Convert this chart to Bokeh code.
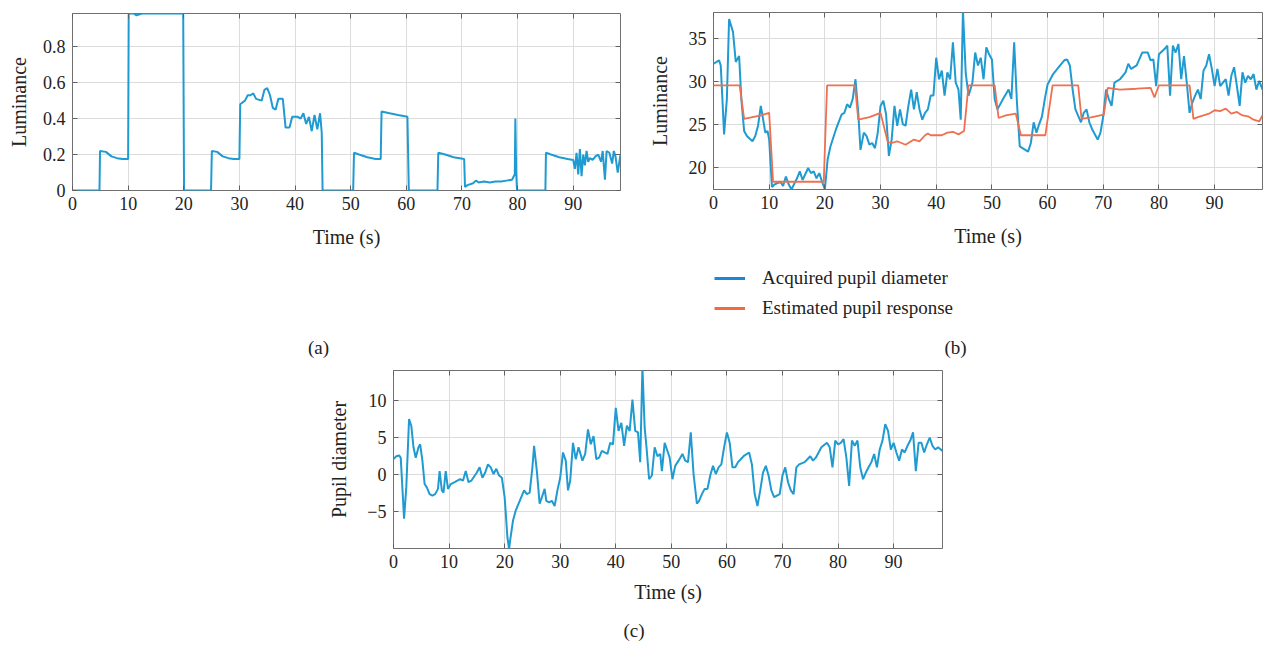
from bokeh.plotting import figure
from bokeh.models import Range1d, FixedTicker, Label, Legend, LegendItem, Title, LinearAxis
from bokeh.layouts import column, row
from bokeh.embed import file_html
from bokeh.resources import INLINE

# ---------------- data ----------------
# (a) luminance stimulus
a_t = [0, 4.85, 4.95, 6.0, 7.0, 8.0, 9.0, 10.0, 10.1, 11.0, 11.5, 12.5, 19.9, 20.05, 24.9, 25.05, 26.0,
       27.0, 28.0, 29.0, 30.0, 30.15, 31.0, 31.5, 32.0, 32.5, 33.0, 34.0, 34.5, 35.0, 35.5, 36.0, 36.5,
       37.0, 37.8, 38.3, 39.0, 39.5, 40.5, 41.0, 41.5, 42.0, 42.5, 43.0, 43.5, 44.0, 44.5, 44.8, 44.95,
       50.45, 50.6, 51.5, 53.0, 54.5, 55.4, 55.55, 57.0, 58.5, 60.2, 60.45, 65.6, 65.75, 67.0, 68.5,
       70.4, 70.55, 71.0, 72.0, 72.5, 73.0, 74.0, 75.0, 76.0, 77.0, 78.0, 79.0, 79.5, 79.6, 79.75, 79.9,
       85.0, 85.1, 86.0, 87.5, 89.0, 90.0, 90.3, 90.6, 90.9, 91.2, 91.5, 91.8, 92.1, 92.4, 92.7, 93.0,
       93.5, 94.0, 94.5, 95.0, 95.3, 95.7, 96.0, 96.5, 97.0, 97.3, 97.6, 98.0, 98.5]
a_lum = [0, 0, 0.22, 0.215, 0.19, 0.18, 0.175, 0.175, 0.985, 0.985, 0.975, 0.985, 0.985, 0, 0, 0.22, 0.215,
         0.19, 0.18, 0.175, 0.175, 0.48, 0.5, 0.53, 0.53, 0.54, 0.51, 0.5, 0.56, 0.57, 0.53, 0.46, 0.45,
         0.51, 0.51, 0.35, 0.35, 0.41, 0.41, 0.4, 0.43, 0.37, 0.41, 0.33, 0.42, 0.34, 0.43, 0.32, 0,
         0, 0.21, 0.2, 0.185, 0.175, 0.175, 0.44, 0.43, 0.42, 0.41, 0, 0, 0.21, 0.2, 0.185,
         0.175, 0.02, 0.03, 0.04, 0.055, 0.045, 0.05, 0.045, 0.05, 0.05, 0.055, 0.06, 0.09, 0.4, 0.1, 0,
         0, 0.21, 0.2, 0.185, 0.175, 0.17, 0.12, 0.21, 0.09, 0.23, 0.08, 0.2, 0.14, 0.22, 0.16, 0.18,
         0.17, 0.19, 0.2, 0.16, 0.22, 0.06, 0.22, 0.21, 0.15, 0.22, 0.19, 0.1, 0.2]

# (b) acquired pupil diameter and estimated response
b_t = [0, 0.5, 1.0, 1.3, 1.6, 1.9, 2.4, 2.8, 3.5, 4.0, 4.6, 5.0, 5.5, 6.0, 7.0, 7.5, 8.0, 8.5, 9.0,
       9.3, 9.7, 10.0, 10.5, 11.0, 12.0, 12.5, 13.0, 13.5, 14.0, 15.0, 15.5, 16.0, 17.0, 17.5, 18.0,
       18.5, 19.0, 19.5, 20.0, 20.5, 21.0, 22.0, 23.0, 23.5, 24.0, 24.5, 25.0, 25.5, 26.0, 26.4, 27.0,
       27.5, 28.0, 28.5, 29.0, 29.5, 30.0, 30.5, 31.0, 31.5, 32.0, 32.5, 33.0, 33.5, 34.0, 34.5, 35.0,
       35.5, 36.0, 36.5, 37.0, 37.5, 38.0, 38.5, 39.0, 39.5, 40.0, 40.5, 41.0, 41.5, 42.0, 42.5, 43.0,
       43.5, 44.0, 44.4, 44.8, 45.3, 45.8, 46.5, 47.0, 47.5, 48.0, 48.5, 49.0, 49.5, 50.0, 50.5, 51.0,
       52.0, 53.0, 53.5, 54.0, 54.5, 55.0, 55.5, 56.0, 56.5, 57.0, 57.5, 58.0, 58.5, 59.0, 59.5, 60.0,
       61.0, 62.0, 63.0, 63.5, 64.0, 64.5, 65.0, 66.0, 66.5, 67.0, 67.5, 68.0, 69.0, 69.5, 70.0, 70.5,
       71.0, 71.5, 72.0, 73.0, 74.0, 74.5, 75.0, 76.0, 77.0, 78.0, 78.5, 79.0, 79.5, 80.0, 81.0, 81.5,
       82.0, 82.5, 83.0, 83.5, 84.0, 84.5, 85.0, 85.5, 86.0, 86.5, 87.0, 87.5, 88.0, 88.5, 89.0, 89.5,
       90.0, 90.5, 91.0, 91.5, 92.0, 92.5, 93.0, 93.5, 94.0, 94.5, 95.0, 95.5, 96.0, 96.5, 97.0, 97.5,
       98.0, 98.6]
b_acquired = [32.1, 32.3, 32.5, 31.9, 28.0, 23.9, 28.0, 37.3, 35.8, 32.3, 33.0, 28.0, 24.3, 23.7, 23.1,
              23.7, 24.9, 27.2, 25.3, 24.1, 24.3, 23.3, 17.8, 18.1, 18.4, 17.9, 19.0, 18.1, 17.5, 18.8,
              19.6, 18.6, 20.0, 19.4, 19.6, 18.8, 19.4, 18.4, 17.5, 21.0, 22.5, 24.5, 26.2, 26.4, 27.4,
              27.0, 28.0, 30.3, 26.4, 22.1, 24.1, 23.7, 22.7, 22.9, 22.3, 24.1, 27.2, 27.8, 26.2, 21.4,
              23.3, 27.2, 24.9, 26.8, 25.1, 24.9, 27.2, 29.1, 26.8, 28.8, 26.8, 25.6, 26.4, 26.8, 28.4,
              28.4, 32.8, 30.3, 31.3, 28.4, 31.1, 30.3, 34.6, 29.9, 29.1, 25.6, 38.3, 31.0, 28.4, 29.9,
              33.4, 31.9, 32.8, 30.3, 34.0, 33.2, 32.6, 28.0, 26.8, 28.0, 29.1, 28.0, 34.6, 27.6, 22.5,
              22.3, 22.1, 21.9, 22.9, 25.3, 24.1, 25.1, 26.0, 28.0, 29.7, 30.9, 31.7, 32.5, 32.6, 31.9,
              29.1, 26.8, 25.3, 26.4, 26.8, 25.3, 24.5, 23.3, 24.1, 26.0, 29.1, 28.0, 27.2, 29.9, 30.3,
              31.1, 32.1, 31.5, 31.9, 33.4, 33.4, 32.5, 32.6, 29.5, 33.2, 33.8, 34.2, 28.4, 34.2, 33.4,
              34.4, 30.3, 33.0, 29.9, 26.4, 27.6, 28.4, 29.1, 28.0, 31.3, 31.9, 33.2, 31.5, 29.5, 31.5,
              29.5, 29.9, 30.3, 28.4, 30.7, 31.7, 29.5, 27.2, 31.1, 29.9, 30.7, 30.3, 30.9, 29.1, 30.1,
              29.1]
b_est_t = [0, 4.7, 5.5, 7.0, 8.5, 10.0, 10.7, 19.8, 20.4, 25.4, 26.0, 28.0, 30.0, 31.3, 32.0, 33.0,
           34.5, 36.0, 37.0, 38.0, 38.5, 39.0, 41.0, 42.0, 43.0, 44.0, 45.0, 45.8, 50.5, 51.2, 52.5,
           54.3, 55.2, 59.6, 60.9, 65.5, 66.1, 68.0, 70.1, 70.8, 73.0, 76.0, 78.5, 79.2, 80.0, 85.5,
           86.2, 87.0, 88.0, 89.0, 90.0, 91.0, 92.0, 93.0, 94.0, 95.0, 96.0, 97.0, 98.0, 98.6]
b_estimated = [29.6, 29.6, 25.7, 25.9, 26.1, 26.4, 18.4, 18.4, 29.6, 29.6, 25.6, 25.9, 26.4, 23.0, 22.9,
               23.1, 22.7, 23.3, 23.1, 23.8, 24.0, 23.8, 23.8, 24.1, 24.2, 23.9, 24.3, 29.6, 29.6, 25.8,
               26.1, 26.3, 23.8, 23.8, 29.6, 29.6, 25.7, 25.9, 26.2, 29.3, 29.1, 29.2, 29.3, 28.2, 29.6,
               29.6, 25.7, 25.9, 26.1, 26.3, 26.7, 26.6, 26.9, 26.3, 26.5, 26.1, 26.0, 25.6, 25.4, 26.1]

# (c) pupil diameter
c_t = [0, 0.5, 1.0, 1.3, 1.5, 1.9, 2.3, 2.8, 3.2, 3.6, 4.0, 4.5, 4.8, 5.2, 5.6, 6.0, 6.5, 7.0, 7.5,
       8.0, 8.3, 8.7, 9.0, 9.4, 9.8, 10.3, 11.0, 12.0, 12.5, 13.0, 13.5, 14.0, 15.0, 15.5, 16.0, 16.5,
       17.0, 17.5, 18.0, 18.5, 19.0, 19.5, 20.0, 20.5, 20.8, 21.0, 21.5, 22.0, 23.0, 23.5, 24.0, 24.5,
       25.0, 25.3, 25.8, 26.3, 26.8, 27.2, 27.5, 28.0, 28.5, 29.0, 29.5, 30.0, 30.5, 31.0, 31.4, 31.8,
       32.3, 32.8, 33.3, 34.0, 34.5, 35.0, 35.5, 36.0, 36.5, 37.0, 37.5, 38.0, 38.5, 39.0, 39.5, 40.0,
       40.5, 41.0, 41.5, 42.0, 42.5, 43.0, 43.5, 44.0, 44.4, 44.8, 45.2, 45.5, 46.0, 46.5, 47.0, 47.5,
       48.0, 48.3, 48.8, 49.3, 49.7, 50.2, 50.7, 51.3, 52.0, 52.5, 53.0, 53.5, 54.0, 54.6, 55.0, 55.5,
       56.0, 56.5, 57.0, 57.5, 58.0, 58.5, 59.0, 59.5, 60.0, 60.5, 61.0, 61.5, 62.0, 63.0, 64.0, 64.5,
       65.0, 65.5, 66.0, 66.5, 67.0, 67.5, 68.0, 68.5, 69.0, 69.5, 70.0, 70.5, 71.0, 71.5, 72.0, 72.5,
       73.0, 74.0, 75.0, 75.5, 76.0, 77.0, 78.0, 78.5, 79.0, 79.5, 80.0, 80.5, 81.0, 81.5, 82.0, 82.5,
       83.0, 83.5, 84.0, 84.5, 85.0, 85.5, 86.0, 86.5, 87.0, 87.5, 88.0, 88.5, 89.0, 89.5, 90.0, 90.5,
       91.0, 91.5, 92.0, 92.5, 93.0, 93.5, 94.0, 94.5, 95.0, 95.5, 96.0, 96.5, 97.0, 97.5, 98.0, 98.8]
c_pupil = [2.1, 2.5, 2.6, 2.3, -0.4, -5.9, -1.7, 7.5, 6.6, 3.7, 2.3, 3.7, 4.1, 1.9, -1.25, -1.7, -2.6,
           -2.8, -2.6, -1.9, 0.5, -2.1, -2.4, 0.5, -1.9, -1.25, -1.0, -0.6, -0.8, 0.5, -1.0, -0.8, 0.3,
           1.0, -0.4, 0.3, 1.4, 1.0, 0.1, 0.8, -0.1, -0.4, -3.0, -8.4, -10.0, -8.8, -6.2, -4.8, -3.0,
           -2.1, -2.6, -2.4, 1.0, 3.9, 0.5, -3.9, -2.8, -1.9, -3.5, -3.7, -3.5, -4.2, -2.1, -0.4, 3.0,
           1.9, -2.1, -0.8, 4.3, 2.1, 3.7, 1.9, 2.8, 6.1, 4.1, 5.2, 2.1, 2.3, 3.2, 3.0, 2.8, 4.3, 4.1,
           9.0, 5.9, 7.0, 3.9, 6.6, 5.9, 10.1, 5.9, 5.7, 1.7, 14.5, 6.3, 4.0, -0.6, -0.1, 3.7, 2.5,
           2.8, 0.5, 4.3, 3.2, 2.3, -0.6, 1.2, 1.9, 2.8, 1.9, 1.7, 5.7, 0.1, -3.9, -3.5, -2.6, -1.9,
           -1.9, -0.1, 1.2, 0.1, 1.0, 1.4, 3.7, 5.7, 4.3, 1.0, 1.0, 1.7, 2.5, 3.0, 1.4, -2.6, -4.2,
           -2.1, 0.3, 1.2, -0.1, -2.1, -3.0, -2.8, -2.6, -0.1, 1.0, -1.0, -2.1, -2.6, 1.0, 1.4, 1.7,
           2.5, 1.9, 2.3, 3.7, 4.3, 3.7, 1.0, 4.6, 4.1, 4.3, 4.8, 2.3, -1.5, 4.6, 3.9, 4.6, 1.0, -0.6,
           0.3, 1.0, 1.7, 2.8, 1.0, 3.4, 4.6, 6.8, 5.9, 3.4, 4.3, 3.0, 1.9, 3.4, 3.0, 3.9, 4.6, 5.7,
           0.5, 4.3, 4.3, 3.0, 4.1, 5.0, 3.9, 3.4, 3.7, 3.2]

x_ticks = [0, 10, 20, 30, 40, 50, 60, 70, 80, 90]
a_yticks = [0, 0.2, 0.4, 0.6, 0.8]
a_ylabels = ["0", "0.2", "0.4", "0.6", "0.8"]
b_yticks = [20, 25, 30, 35]
c_yticks = [-5, 0, 5, 10]
c_ylabels = ["\u22125", "0", "5", "10"]
legend_labels = ["Acquired pupil diameter", "Estimated pupil response"]

# ---------------- style ----------------
FONT = "Liberation Serif"
BLUE = "#1f9bd1"
BLUE_LEG = "#1a88d4"
ORANGE = "#ef7050"
ORANGE_LEG = "#f26a3e"
TXT = "#222222"
NAN = float("nan")


def style(p, xt, yt, ylabels=None, ylabel_standoff=10):
    p.background_fill_color = "white"
    p.border_fill_color = "white"
    p.outline_line_color = "#707070"
    p.outline_line_width = 1
    p.xaxis.ticker = FixedTicker(ticks=xt)
    p.yaxis.ticker = FixedTicker(ticks=yt)
    if ylabels is not None:
        p.yaxis.major_label_overrides = {k: v for k, v in zip(yt, ylabels)}
    for ax in (p.xaxis[0], p.yaxis[0]):
        ax.axis_line_color = None
        ax.major_tick_in = 5
        ax.major_tick_out = 0
        ax.major_tick_line_color = "#606060"
        ax.minor_tick_line_color = None
        ax.major_label_text_font = FONT
        ax.major_label_text_font_size = "18px"
        ax.major_label_text_color = TXT
        ax.axis_label_text_font = FONT
        ax.axis_label_text_font_size = "20px"
        ax.axis_label_text_font_style = "normal"
        ax.axis_label_text_color = TXT
    p.xaxis.major_label_standoff = 6
    p.yaxis.major_label_standoff = 7
    p.xaxis.axis_label_standoff = 13
    p.yaxis.axis_label_standoff = ylabel_standoff
    p.grid.grid_line_color = "#dcdcdc"
    p.grid.grid_line_width = 1
    p.xgrid.ticker = FixedTicker(ticks=xt)
    p.ygrid.ticker = FixedTicker(ticks=yt)
    # mirrored tick marks on the top and right edges (no labels)
    top = LinearAxis(ticker=FixedTicker(ticks=xt), major_label_overrides={k: "" for k in xt},
                     axis_line_color=None, major_tick_in=5, major_tick_out=0,
                     major_tick_line_color="#606060", minor_tick_line_color=None,
                     major_label_standoff=0, major_label_text_font_size="1px")
    right = LinearAxis(ticker=FixedTicker(ticks=yt), major_label_overrides={k: "" for k in yt},
                       axis_line_color=None, major_tick_in=5, major_tick_out=0,
                       major_tick_line_color="#606060", minor_tick_line_color=None,
                       major_label_standoff=0, major_label_text_font_size="1px")
    p.add_layout(top, "above")
    p.add_layout(right, "right")


def blank(width, height, xr, yr):
    q = figure(width=width, height=height, x_range=Range1d(0, xr), y_range=Range1d(0, yr),
               output_backend="svg", toolbar_location=None, x_axis_location=None,
               y_axis_location=None, min_border=0, outline_line_color=None)
    q.grid.visible = False
    q.background_fill_color = "white"
    q.border_fill_color = "white"
    return q


def tag(q, text, x, y):
    q.add_layout(Label(x=x, y=y, text=text, text_font=FONT, text_font_size="19px",
                       text_color=TXT, text_align="center", text_baseline="middle"))


# ---------------- (a) ----------------
pa = figure(width=640, height=258, x_range=Range1d(0, 98.5), y_range=Range1d(0, 0.985),
            output_backend="svg", toolbar_location=None,
            min_border_left=72, min_border_right=20, min_border_top=13, min_border_bottom=68,
            x_axis_label="Time (s)", y_axis_label="Luminance")
style(pa, x_ticks, a_yticks, a_ylabels)
pa.line(a_t, a_lum, line_color=BLUE, line_width=2)
pal = blank(640, 107, 548, 107)
tag(pal, "(a)", 246, 18)

# ---------------- (b) ----------------
pb = figure(width=626, height=258, x_range=Range1d(0, 98.6), y_range=Range1d(17.5, 38.05),
            output_backend="svg", toolbar_location=None,
            min_border_left=73, min_border_right=4, min_border_top=12, min_border_bottom=69,
            x_axis_label="Time (s)", y_axis_label="Luminance")
style(pb, x_ticks, b_yticks, ylabel_standoff=15)
pb.line(b_t, b_acquired, line_color=BLUE, line_width=2)
pb.line(b_est_t, b_estimated, line_color=ORANGE, line_width=1.8)

pbl = blank(626, 107, 549, 107)
l1 = pbl.line([NAN], [NAN], line_color=BLUE_LEG, line_width=3)
l2 = pbl.line([NAN], [NAN], line_color=ORANGE_LEG, line_width=3)
leg = Legend(items=[LegendItem(label=legend_labels[0], renderers=[l1]),
                    LegendItem(label=legend_labels[1], renderers=[l2])],
             location=(1, 46), orientation="vertical",
             label_text_font=FONT, label_text_font_size="19px", label_text_color=TXT,
             glyph_width=31, glyph_height=20, label_height=20, label_standoff=17,
             spacing=8, padding=0, margin=0,
             border_line_alpha=0, background_fill_alpha=0)
pbl.add_layout(leg, "center")
tag(pbl, "(b)", 242, 18)

# ---------------- (c) ----------------
pc = figure(width=1266, height=283, x_range=Range1d(0, 98.8), y_range=Range1d(-9.92, 14.03),
            output_backend="svg", toolbar_location=None,
            min_border_left=393, min_border_right=324, min_border_top=5, min_border_bottom=100,
            y_axis_label="Pupil diameter")
style(pc, x_ticks, c_yticks, c_ylabels, ylabel_standoff=14)
pc.line(c_t, c_pupil, line_color=BLUE, line_width=2)
pc.add_layout(Title(text="Time (s)", align="center", vertical_align="top", standoff=20,
                    text_font=FONT, text_font_size="20px", text_font_style="normal",
                    text_color=TXT), "below")
pc.add_layout(Title(text="(c)", align="left", offset=230, vertical_align="bottom", standoff=6,
                    text_font=FONT, text_font_size="19px", text_font_style="normal",
                    text_color=TXT), "below")

layout = column(row(column(pa, pal), column(pb, pbl)), pc)
open("out.html", "w").write(file_html(layout, INLINE))
